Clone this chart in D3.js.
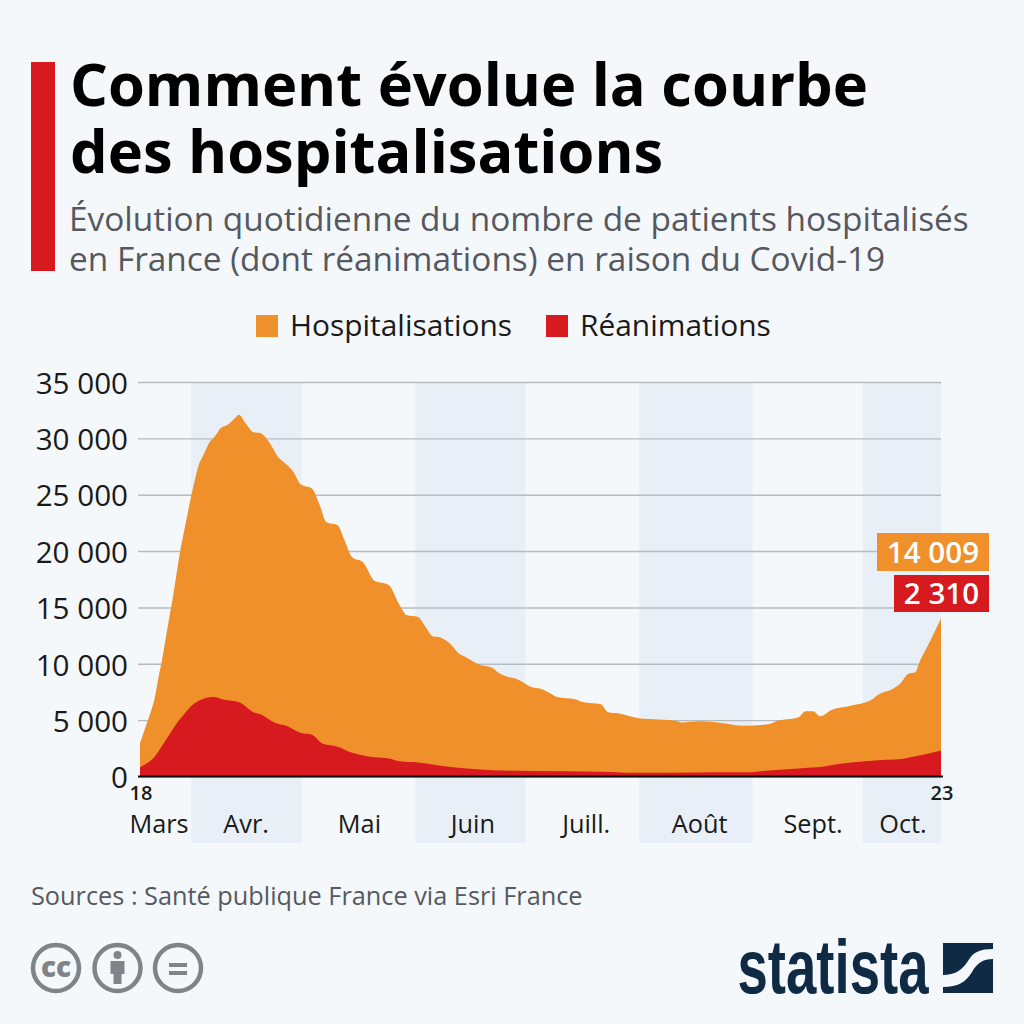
<!DOCTYPE html>
<html lang="fr">
<head>
<meta charset="utf-8">
<title>Comment évolue la courbe des hospitalisations</title>
<script src="https://d3js.org/d3.v7.min.js"></script>
<style>
    html, body { margin: 0; padding: 0; background: #f4f8fb; }
    svg { display: block; }
    text { font-family: "Open Sans", sans-serif; }
</style>
</head>
<body>
<svg id="chart" width="1024" height="1024"></svg>
<script>
// values, days counted from 18 March
const hospDays = [0, 1, 2, 3, 4, 5, 6, 7, 8, 9, 10, 11, 12, 13, 14, 15, 16, 17, 18, 19, 20, 21, 22, 24, 25, 26, 27, 29, 31, 33, 35, 38, 40, 42, 44, 47, 49, 51, 54, 56, 58, 61, 64, 68, 71, 73, 76, 78, 80, 82, 85, 87, 89, 93, 96, 98, 101, 103, 107, 110, 112, 114, 119, 121, 126, 128, 131, 136, 142, 147, 148, 153, 159, 165, 172, 174, 180, 182, 184, 186, 189, 194, 200, 202, 205, 208, 210, 212, 213, 214, 216, 219];
const hospValues = [2970, 3900, 4850, 5800, 6950, 8700, 10300, 12200, 14100, 15900, 18000, 20000, 21700, 23300, 24900, 26300, 27600, 28300, 29000, 29650, 30000, 30400, 30900, 31200, 31500, 31800, 32100, 31300, 30550, 30450, 29800, 28250, 27700, 27000, 25900, 25550, 24200, 22550, 22300, 20900, 19450, 19000, 17400, 17000, 15200, 14300, 14150, 13300, 12450, 12350, 11700, 10950, 10600, 9900, 9700, 9200, 8800, 8650, 7950, 7750, 7400, 7050, 6850, 6600, 6400, 5700, 5600, 5200, 5050, 4900, 4800, 4900, 4750, 4500, 4650, 4900, 5250, 5800, 5800, 5350, 5900, 6250, 6800, 7300, 7650, 8300, 9100, 9250, 10050, 10750, 12000, 14009];
const reaDays = [0, 2, 4, 6, 8, 10, 12, 14, 17, 20, 23, 27, 31, 33, 37, 40, 44, 47, 50, 54, 58, 64, 68, 71, 76, 85, 92, 107, 126, 135, 153, 159, 165, 172, 180, 187, 191, 202, 208, 212, 215, 219];
const reaValues = [820, 1200, 1750, 2700, 3700, 4700, 5500, 6250, 6850, 7050, 6800, 6600, 5700, 5500, 4750, 4500, 3850, 3700, 2900, 2650, 2100, 1700, 1600, 1350, 1250, 850, 650, 480, 420, 330, 360, 370, 370, 530, 720, 880, 1100, 1450, 1550, 1800, 2000, 2310];
const yTicks = [0, 5000, 10000, 15000, 20000, 25000, 30000, 35000];
const monthNames = ["Mars", "Avr.", "Mai", "Juin", "Juill.", "Août", "Sept.", "Oct."];
const monthStarts = [0, 14, 44.2, 75.3, 105.4, 136.5, 167.5, 197.6, 219];
const monthLabelDays = [5.2, 29, 60, 91, 122, 153, 184, 208.6];

const ORANGE = "#f0902a", RED = "#d71920", BAND = "#e9eff6", GRID = "#b7bcc2";
const TEXT = "#1a1a1a", GREY = "#55595f", ICON = "#808387", NAVY = "#0f2a45";

const svg = d3.select("#chart");
svg.append("rect").attr("width", 1024).attr("height", 1024).attr("fill", "#f4f8fb");

// header
svg.append("rect").attr("x", 31).attr("y", 62).attr("width", 24).attr("height", 209).attr("fill", RED);
svg.selectAll("text.title").data(["Comment évolue la courbe", "des hospitalisations"]).join("text")
    .attr("class", "title")
    .attr("x", 70).attr("y", (d, i) => 106 + i * 67)
    .attr("font-size", 59.6).attr("font-weight", 700).attr("fill", "#000")
    .text(d => d);
svg.selectAll("text.sub").data(["Évolution quotidienne du nombre de patients hospitalisés", "en France (dont réanimations) en raison du Covid-19"]).join("text")
    .attr("class", "sub")
    .attr("x", 69).attr("y", (d, i) => 231 + i * 40)
    .attr("font-size", 33.4).attr("fill", GREY)
    .text(d => d);

// legend
const legend = [["Hospitalisations", ORANGE, 256], ["Réanimations", RED, 546]];
legend.forEach(([label, color, lx]) => {
    svg.append("rect").attr("x", lx).attr("y", 315).attr("width", 22).attr("height", 22).attr("fill", color);
    svg.append("text").attr("x", lx + 34).attr("y", 336).attr("font-size", 29.9).attr("fill", TEXT).text(label);
});

// scales
const x = d3.scaleLinear().domain([0, 219]).range([140, 941]);
const y = d3.scaleLinear().domain([0, 35000]).range([776.5, 382]);

// month bands, every other month
const months = monthNames.map((name, i) => ({ name, start: monthStarts[i], end: monthStarts[i + 1], label: monthLabelDays[i], i }));
svg.append("g").selectAll("rect").data(months.filter(d => d.i % 2 === 1)).join("rect")
    .attr("x", d => x(d.start)).attr("width", d => x(d.end) - x(d.start))
    .attr("y", 382).attr("height", 461)
    .attr("fill", BAND);

// grid and y axis
const fmt = v => d3.format(",")(v).replace(/,/g, " ");
const yAxis = svg.append("g").attr("transform", "translate(138,0)")
    .call(d3.axisLeft(y).tickValues(yTicks).tickFormat(fmt).tickSize(-803).tickPadding(10));
yAxis.select(".domain").remove();
yAxis.selectAll("line").attr("stroke", GRID).attr("stroke-width", 1.4);
yAxis.selectAll("text").attr("font-size", 29.6).attr("fill", TEXT).attr("dy", "0.38em")
    .attr("font-family", '"Open Sans", sans-serif');

// areas
const hosp = hospDays.map((d, i) => [d, hospValues[i]]);
const rea = reaDays.map((d, i) => [d, reaValues[i]]);
const area = d3.area().x(d => x(d[0])).y0(y(0)).y1(d => y(d[1])).curve(d3.curveMonotoneX);
svg.append("path").datum(hosp).attr("d", area).attr("fill", ORANGE);
svg.append("path").datum(rea).attr("d", area).attr("fill", RED);

// x axis
svg.append("line").attr("x1", 138).attr("x2", 943).attr("y1", y(0)).attr("y2", y(0))
    .attr("stroke", "#111").attr("stroke-width", 2);
svg.append("text").attr("x", x(0) + 1).attr("y", 800).attr("text-anchor", "middle")
    .attr("font-size", 20).attr("font-weight", 600).attr("fill", TEXT).text("18");
svg.append("text").attr("x", x(219) + 1).attr("y", 800).attr("text-anchor", "middle")
    .attr("font-size", 20).attr("font-weight", 600).attr("fill", TEXT).text("23");
svg.append("g").selectAll("text").data(months).join("text")
    .attr("x", d => x(d.label))
    .attr("y", 833).attr("text-anchor", "middle")
    .attr("font-size", 25.3).attr("fill", TEXT)
    .text(d => d.name);

// end value labels
const endLabels = [[hospValues[hospValues.length - 1], ORANGE, 877, 533, 38], [reaValues[reaValues.length - 1], RED, 894, 575, 37]];
endLabels.forEach(([v, color, bx, by, bh]) => {
    svg.append("rect").attr("x", bx).attr("y", by).attr("width", 989 - bx).attr("height", bh).attr("fill", color);
    svg.append("text").attr("x", (bx + 989) / 2).attr("y", by + bh / 2 + 10.5).attr("text-anchor", "middle")
        .attr("font-size", 29.6).attr("font-weight", 600).attr("fill", "#fff").text(fmt(v));
});

// source
svg.append("text").attr("x", 31).attr("y", 905).attr("font-size", 25.3).attr("fill", GREY)
    .text("Sources : Santé publique France via Esri France");

// licence icons
const icons = svg.append("g");
[56, 117.5, 178].forEach(cx => {
    icons.append("circle").attr("cx", cx).attr("cy", 968).attr("r", 23).attr("fill", "none")
        .attr("stroke", ICON).attr("stroke-width", 4.5);
});
icons.append("text").attr("x", 56).attr("y", 977).attr("text-anchor", "middle")
    .attr("font-size", 29).attr("font-weight", 800).attr("fill", ICON).attr("textLength", 30)
    .attr("lengthAdjust", "spacingAndGlyphs").text("cc");
icons.append("circle").attr("cx", 117.5).attr("cy", 955).attr("r", 4).attr("fill", ICON);
icons.append("path").attr("d", "M110.5 961h14v13h-3v10h-8v-10h-3z").attr("fill", ICON);
icons.append("rect").attr("x", 169).attr("y", 963).attr("width", 18).attr("height", 4).attr("fill", ICON);
icons.append("rect").attr("x", 169).attr("y", 971).attr("width", 18).attr("height", 4).attr("fill", ICON);

// statista logo
svg.append("text").attr("x", 737.5).attr("y", 992.5)
    .attr("font-size", 76).attr("font-weight", 700).attr("fill", NAVY)
    .attr("textLength", 191).attr("lengthAdjust", "spacingAndGlyphs")
    .style("font-family", '"Liberation Sans", sans-serif')
    .text("statista");
svg.append("path").attr("fill", NAVY)
    .attr("d", "M943 943H993V949C980 949 973 952 968 961C962 970 955 975 943 975ZM993 959V993H943V987C958 987 966 982 972 972C977 963 983 959 993 959Z");
</script>
</body>
</html>
